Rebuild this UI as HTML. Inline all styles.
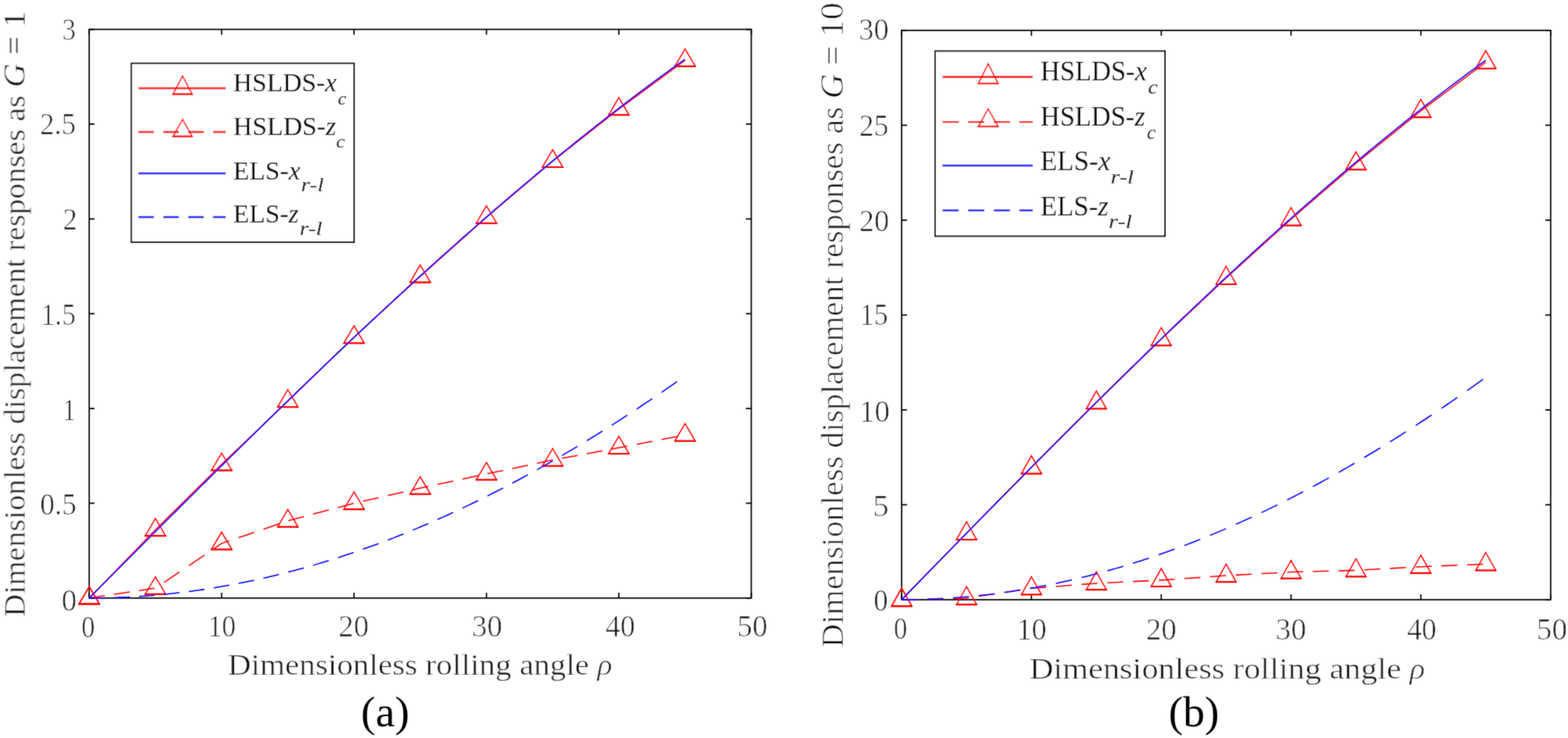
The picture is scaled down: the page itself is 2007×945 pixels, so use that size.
<!DOCTYPE html><html><head><meta charset="utf-8"><title>Dimensionless displacement responses</title><style>html,body{margin:0;padding:0;background:#fff;width:2007px;height:945px;overflow:hidden}svg{display:block}</style></head><body><svg width="2007" height="945" viewBox="0 0 2007 945" font-family="&apos;Liberation Serif&apos;, &apos;Times New Roman&apos;, serif"><rect width="2007" height="945" fill="#fff"/><filter id="soft" filterUnits="userSpaceOnUse" x="0" y="0" width="2007" height="945"><feConvolveMatrix order="3" kernelMatrix="1 6 1 6 36 6 1 6 1" divisor="64" edgeMode="none"/></filter><g filter="url(#soft)"><defs><clipPath id="cL"><rect x="114.2" y="36.6" width="848.4" height="730.2"/></clipPath><clipPath id="cR"><rect x="1154.1" y="37.9" width="831.7" height="731"/></clipPath></defs><rect x="114.2" y="37.6" width="847.4" height="728.2" fill="none" stroke="#000" stroke-width="1.7"/><path d="M114.2 765.8V759M114.2 37.6V44.4M283.68 765.8V759M283.68 37.6V44.4M453.16 765.8V759M453.16 37.6V44.4M622.64 765.8V759M622.64 37.6V44.4M792.12 765.8V759M792.12 37.6V44.4M961.6 765.8V759M961.6 37.6V44.4M114.2 765.8H121M961.6 765.8H954.8M114.2 644.43H121M961.6 644.43H954.8M114.2 523.07H121M961.6 523.07H954.8M114.2 401.7H121M961.6 401.7H954.8M114.2 280.33H121M961.6 280.33H954.8M114.2 158.97H121M961.6 158.97H954.8M114.2 37.6H121M961.6 37.6H954.8" stroke="#000" stroke-width="1.7" fill="none"/><rect x="1154.1" y="38.9" width="830.7" height="729" fill="none" stroke="#000" stroke-width="1.7"/><path d="M1154.1 767.9V761.1M1154.1 38.9V45.7M1320.24 767.9V761.1M1320.24 38.9V45.7M1486.38 767.9V761.1M1486.38 38.9V45.7M1652.52 767.9V761.1M1652.52 38.9V45.7M1818.66 767.9V761.1M1818.66 38.9V45.7M1984.8 767.9V761.1M1984.8 38.9V45.7M1154.1 767.9H1160.9M1984.8 767.9H1978M1154.1 646.4H1160.9M1984.8 646.4H1978M1154.1 524.9H1160.9M1984.8 524.9H1978M1154.1 403.4H1160.9M1984.8 403.4H1978M1154.1 281.9H1160.9M1984.8 281.9H1978M1154.1 160.4H1160.9M1984.8 160.4H1978M1154.1 38.9H1160.9M1984.8 38.9H1978" stroke="#000" stroke-width="1.7" fill="none"/><path d="M114.2 765.8 L198.94 678.42 L283.68 594.67 L368.42 513.6 L453.16 431.8 L537.9 353.88 L622.64 278.15 L707.38 206.3 L792.12 139.55 L876.86 77.17" fill="none" stroke="#ff0000" stroke-width="1.55" clip-path="url(#cL)" stroke-linejoin="round"/><path d="M114.2 751.2L127.2 773.3L101.2 773.3ZM198.94 663.82L211.94 685.92L185.94 685.92ZM283.68 580.07L296.68 602.17L270.68 602.17ZM368.42 499L381.42 521.1L355.42 521.1ZM453.16 417.2L466.16 439.3L440.16 439.3ZM537.9 339.28L550.9 361.38L524.9 361.38ZM622.64 263.55L635.64 285.65L609.64 285.65ZM707.38 191.7L720.38 213.8L694.38 213.8ZM792.12 124.95L805.12 147.05L779.12 147.05ZM876.86 62.57L889.86 84.67L863.86 84.67Z" fill="none" stroke="#ff0000" stroke-width="1.45"/><path d="M100.4 773.5H128M185.14 686.12H212.74M269.88 602.37H297.48M354.62 521.3H382.22M439.36 439.5H466.96M524.1 361.58H551.7M608.84 285.85H636.44M693.58 214H721.18M778.32 147.25H805.92M863.06 84.87H890.66" stroke="#ff0000" stroke-width="2.1"/><path d="M114.2 765.8 L134.2 762.82M146.05 761.06 L166.05 758.08M177.9 756.31 L197.9 753.33M209.75 745.87 L229.75 732.35M241.6 724.34 L261.6 710.82M273.45 702.81 L283.68 695.89 L293.45 692.56M305.3 688.52 L325.3 681.71M337.15 677.67 L357.15 670.85M369 666.85 L389 661.53M400.85 658.37 L420.85 653.04M432.7 649.88 L452.7 644.56M464.55 641.82 L484.55 637.24M496.4 634.52 L516.4 629.94M528.25 627.23 L537.9 625.01 L548.25 622.79M560.1 620.25 L580.1 615.95M591.95 613.4 L611.95 609.11M623.8 606.57 L643.8 602.39M655.65 599.91 L675.65 595.73M687.5 593.25 L707.38 589.09 L707.5 589.07M719.35 586.86 L739.35 583.14M751.2 580.93 L771.2 577.21M783.05 575 L792.12 573.31 L803.05 571.21M814.9 568.94 L834.9 565.1M846.75 562.83 L866.75 558.99" fill="none" stroke="#ff0000" stroke-width="1.55" clip-path="url(#cL)" stroke-linejoin="round"/><path d="M114.2 751.2L127.2 773.3L101.2 773.3ZM198.94 738.58L211.94 760.68L185.94 760.68ZM283.68 681.29L296.68 703.39L270.68 703.39ZM368.42 652.41L381.42 674.51L355.42 674.51ZM453.16 629.83L466.16 651.93L440.16 651.93ZM537.9 610.41L550.9 632.51L524.9 632.51ZM622.64 592.21L635.64 614.31L609.64 614.31ZM707.38 574.49L720.38 596.59L694.38 596.59ZM792.12 558.71L805.12 580.81L779.12 580.81ZM876.86 542.45L889.86 564.55L863.86 564.55Z" fill="none" stroke="#ff0000" stroke-width="1.45"/><path d="M100.4 773.5H128M185.14 760.88H212.74M269.88 703.59H297.48M354.62 674.71H382.22M439.36 652.13H466.96M524.1 632.71H551.7M608.84 614.51H636.44M693.58 596.79H721.18M778.32 581.01H805.92M863.06 564.75H890.66" stroke="#ff0000" stroke-width="2.1"/><path d="M114.2 765.8 L118.44 761.54 L122.67 757.28 L126.91 753.03 L131.15 748.77 L135.38 744.51 L139.62 740.26 L143.86 736 L148.1 731.75 L152.33 727.49 L156.57 723.24 L160.81 718.98 L165.04 714.73 L169.28 710.48 L173.52 706.23 L177.75 701.98 L181.99 697.73 L186.23 693.49 L190.47 689.24 L194.7 685 L198.94 680.75 L203.18 676.51 L207.41 672.27 L211.65 668.04 L215.89 663.8 L220.12 659.57 L224.36 655.34 L228.6 651.11 L232.84 646.88 L237.07 642.66 L241.31 638.43 L245.55 634.21 L249.78 630 L254.02 625.78 L258.26 621.57 L262.5 617.36 L266.73 613.15 L270.97 608.95 L275.21 604.75 L279.44 600.55 L283.68 596.36 L287.92 592.16 L292.15 587.98 L296.39 583.79 L300.63 579.61 L304.87 575.43 L309.1 571.26 L313.34 567.09 L317.58 562.92 L321.81 558.76 L326.05 554.6 L330.29 550.45 L334.52 546.3 L338.76 542.15 L343 538.01 L347.24 533.87 L351.47 529.74 L355.71 525.61 L359.95 521.48 L364.18 517.36 L368.42 513.25 L372.66 509.14 L376.89 505.03 L381.13 500.93 L385.37 496.84 L389.6 492.75 L393.84 488.66 L398.08 484.58 L402.32 480.51 L406.55 476.44 L410.79 472.37 L415.03 468.32 L419.26 464.26 L423.5 460.22 L427.74 456.18 L431.97 452.14 L436.21 448.11 L440.45 444.09 L444.69 440.08 L448.92 436.06 L453.16 432.06 L457.4 428.06 L461.63 424.07 L465.87 420.09 L470.11 416.11 L474.34 412.14 L478.58 408.17 L482.82 404.21 L487.06 400.26 L491.29 396.32 L495.53 392.38 L499.77 388.45 L504 384.53 L508.24 380.61 L512.48 376.71 L516.72 372.8 L520.95 368.91 L525.19 365.03 L529.43 361.15 L533.66 357.28 L537.9 353.41 L542.14 349.56 L546.37 345.71 L550.61 341.87 L554.85 338.04 L559.09 334.22 L563.32 330.41 L567.56 326.6 L571.8 322.8 L576.03 319.01 L580.27 315.23 L584.51 311.46 L588.74 307.7 L592.98 303.94 L597.22 300.19 L601.46 296.46 L605.69 292.73 L609.93 289.01 L614.17 285.3 L618.4 281.6 L622.64 277.91 L626.88 274.22 L631.11 270.55 L635.35 266.89 L639.59 263.23 L643.83 259.59 L648.06 255.95 L652.3 252.33 L656.54 248.71 L660.77 245.11 L665.01 241.51 L669.25 237.92 L673.48 234.35 L677.72 230.78 L681.96 227.23 L686.2 223.68 L690.43 220.15 L694.67 216.62 L698.91 213.11 L703.14 209.6 L707.38 206.11 L711.62 202.63 L715.85 199.16 L720.09 195.7 L724.33 192.25 L728.57 188.81 L732.8 185.38 L737.04 181.96 L741.28 178.56 L745.51 175.16 L749.75 171.78 L753.99 168.41 L758.22 165.04 L762.46 161.7 L766.7 158.36 L770.94 155.03 L775.17 151.72 L779.41 148.41 L783.65 145.12 L787.88 141.84 L792.12 138.58 L796.36 135.32 L800.59 132.08 L804.83 128.84 L809.07 125.63 L813.31 122.42 L817.54 119.22 L821.78 116.04 L826.02 112.87 L830.25 109.71 L834.49 106.57 L838.73 103.43 L842.96 100.31 L847.2 97.21 L851.44 94.11 L855.68 91.03 L859.91 87.96 L864.15 84.9 L868.39 81.86 L872.62 78.83 L876.86 75.81" fill="none" stroke="#0000ff" stroke-width="1.55" clip-path="url(#cL)" stroke-linejoin="round"/><path d="M114.2 765.8 L118.44 765.79 L122.67 765.76 L126.91 765.72 L131.15 765.65 L134.2 765.59M146.05 765.28 L148.1 765.21 L152.33 765.05 L156.57 764.88 L160.81 764.68 L165.04 764.47 L166.05 764.41M177.9 763.71 L181.99 763.43 L186.23 763.13 L190.47 762.81 L194.7 762.47 L197.9 762.19M209.75 761.1 L211.65 760.91 L215.89 760.48 L220.12 760.03 L224.36 759.56 L228.6 759.07 L229.75 758.93M241.6 757.46 L245.55 756.93 L249.78 756.35 L254.02 755.75 L258.26 755.14 L261.6 754.63M273.45 752.77 L275.21 752.48 L279.44 751.78 L283.68 751.05 L287.92 750.3 L292.15 749.54 L293.45 749.3M305.3 747.06 L309.1 746.31 L313.34 745.45 L317.58 744.58 L321.81 743.69 L325.3 742.95M337.15 740.32 L338.76 739.95 L343 738.97 L347.24 737.98 L351.47 736.96 L355.71 735.93 L357.15 735.57M369 732.56 L372.66 731.61 L376.89 730.49 L381.13 729.35 L385.37 728.19 L389 727.18M400.85 723.8 L402.32 723.37 L406.55 722.13 L410.79 720.86 L415.03 719.58 L419.26 718.28 L420.85 717.79M432.7 714.04 L436.21 712.9 L440.45 711.51 L444.69 710.11 L448.92 708.69 L452.7 707.4M464.55 703.29 L465.87 702.82 L470.11 701.31 L474.34 699.78 L478.58 698.24 L482.82 696.68 L484.55 696.03M496.4 691.56 L499.77 690.26 L504 688.62 L508.24 686.95 L512.48 685.27 L516.4 683.7M528.25 678.86 L529.43 678.38 L533.66 676.61 L537.9 674.83 L542.14 673.03 L546.37 671.22 L548.25 670.41M560.1 665.22 L563.32 663.79 L567.56 661.89 L571.8 659.97 L576.03 658.04 L580.1 656.17M591.95 650.64 L592.98 650.15 L597.22 648.14 L601.46 646.11 L605.69 644.06 L609.93 642 L611.95 641.01M623.8 635.14 L626.88 633.59 L631.11 631.45 L635.35 629.29 L639.59 627.12 L643.8 624.94M655.65 618.73 L656.54 618.26 L660.77 616.01 L665.01 613.74 L669.25 611.46 L673.48 609.16 L675.65 607.98M687.5 601.44 L690.43 599.81 L694.67 597.43 L698.91 595.04 L703.14 592.63 L707.38 590.21 L707.5 590.14M719.35 583.28 L720.09 582.85 L724.33 580.37 L728.57 577.87 L732.8 575.36 L737.04 572.83 L739.35 571.44M751.2 564.27 L753.99 562.57 L758.22 559.97 L762.46 557.36 L766.7 554.73 L770.94 552.08 L771.2 551.92M783.05 544.44 L783.65 544.06 L787.88 541.36 L792.12 538.64 L796.36 535.91 L800.59 533.17 L803.05 531.57M814.9 523.8 L817.54 522.05 L821.78 519.24 L826.02 516.41 L830.25 513.57 L834.49 510.71 L834.9 510.44M846.75 502.37 L847.2 502.07 L851.44 499.16 L855.68 496.23 L859.91 493.3 L864.15 490.35 L866.75 488.53" fill="none" stroke="#0000ff" stroke-width="1.55" clip-path="url(#cL)" stroke-linejoin="round"/><path d="M1154.1 767.9 L1237.17 682.79 L1320.24 598.39 L1403.31 515.34 L1486.38 434.28 L1569.45 355.82 L1652.52 280.56 L1735.59 209.08 L1818.66 141.93 L1901.73 79.62" fill="none" stroke="#ff0000" stroke-width="1.55" clip-path="url(#cR)" stroke-linejoin="round"/><path d="M1154.1 753.1L1166.9 775.9L1141.3 775.9ZM1237.17 667.99L1249.97 690.79L1224.37 690.79ZM1320.24 583.59L1333.04 606.39L1307.44 606.39ZM1403.31 500.54L1416.11 523.34L1390.51 523.34ZM1486.38 419.48L1499.18 442.28L1473.58 442.28ZM1569.45 341.02L1582.25 363.82L1556.65 363.82ZM1652.52 265.76L1665.32 288.56L1639.72 288.56ZM1735.59 194.28L1748.39 217.08L1722.79 217.08ZM1818.66 127.13L1831.46 149.93L1805.86 149.93ZM1901.73 64.82L1914.53 87.62L1888.93 87.62Z" fill="none" stroke="#ff0000" stroke-width="1.45"/><path d="M1140.5 776.1H1167.7M1223.57 690.99H1250.77M1306.64 606.59H1333.84M1389.71 523.54H1416.91M1472.78 442.48H1499.98M1555.85 364.02H1583.05M1638.92 288.76H1666.12M1721.99 217.28H1749.19M1805.06 150.13H1832.26M1888.13 87.82H1915.33" stroke="#ff0000" stroke-width="2.1"/><path d="M1154.1 767.9 L1174.5 767.42M1187 767.13 L1207.4 766.65M1219.9 766.36 L1237.17 765.96 L1240.3 765.48M1252.8 763.58 L1273.2 760.48M1285.7 758.57 L1306.1 755.47M1318.6 753.57 L1320.24 753.32 L1339 751.87M1351.5 750.91 L1371.9 749.33M1384.4 748.37 L1403.31 746.9 L1404.8 746.83M1417.3 746.23 L1437.7 745.23M1450.2 744.63 L1470.6 743.64M1483.1 743.03 L1486.38 742.87 L1503.5 741.67M1516 740.79 L1536.4 739.36M1548.9 738.48 L1569.3 737.05M1581.8 736.36 L1602.2 735.25M1614.7 734.56 L1635.1 733.45M1647.6 732.76 L1652.52 732.49 L1668 732.09M1680.5 731.76 L1700.9 731.22M1713.4 730.89 L1733.8 730.36M1746.3 729.71 L1766.7 728.58M1779.2 727.88 L1799.6 726.75M1812.1 726.06 L1818.66 725.69 L1832.5 725.12M1845 724.61 L1865.4 723.78M1877.9 723.26 L1898.3 722.43" fill="none" stroke="#ff0000" stroke-width="1.55" clip-path="url(#cR)" stroke-linejoin="round"/><path d="M1154.1 753.1L1166.9 775.9L1141.3 775.9ZM1237.17 751.16L1249.97 773.96L1224.37 773.96ZM1320.24 738.52L1333.04 761.32L1307.44 761.32ZM1403.31 732.1L1416.11 754.9L1390.51 754.9ZM1486.38 728.07L1499.18 750.87L1473.58 750.87ZM1569.45 722.24L1582.25 745.04L1556.65 745.04ZM1652.52 717.69L1665.32 740.49L1639.72 740.49ZM1735.59 715.51L1748.39 738.31L1722.79 738.31ZM1818.66 710.89L1831.46 733.69L1805.86 733.69ZM1901.73 707.49L1914.53 730.29L1888.93 730.29Z" fill="none" stroke="#ff0000" stroke-width="1.45"/><path d="M1140.5 776.1H1167.7M1223.57 774.16H1250.77M1306.64 761.52H1333.84M1389.71 755.1H1416.91M1472.78 751.07H1499.98M1555.85 745.24H1583.05M1638.92 740.69H1666.12M1721.99 738.51H1749.19M1805.06 733.89H1832.26M1888.13 730.49H1915.33" stroke="#ff0000" stroke-width="2.1"/><path d="M1154.1 767.9 L1158.25 763.64 L1162.41 759.38 L1166.56 755.11 L1170.71 750.85 L1174.87 746.59 L1179.02 742.33 L1183.17 738.07 L1187.33 733.81 L1191.48 729.55 L1195.63 725.29 L1199.79 721.03 L1203.94 716.78 L1208.1 712.52 L1212.25 708.26 L1216.4 704.01 L1220.56 699.76 L1224.71 695.51 L1228.86 691.26 L1233.02 687.01 L1237.17 682.76 L1241.32 678.52 L1245.48 674.27 L1249.63 670.03 L1253.78 665.79 L1257.94 661.55 L1262.09 657.32 L1266.24 653.08 L1270.4 648.85 L1274.55 644.62 L1278.7 640.39 L1282.86 636.17 L1287.01 631.95 L1291.17 627.73 L1295.32 623.51 L1299.47 619.3 L1303.63 615.09 L1307.78 610.88 L1311.93 606.67 L1316.09 602.47 L1320.24 598.27 L1324.39 594.07 L1328.55 589.88 L1332.7 585.69 L1336.85 581.51 L1341.01 577.32 L1345.16 573.15 L1349.31 568.97 L1353.47 564.8 L1357.62 560.63 L1361.77 556.47 L1365.93 552.31 L1370.08 548.15 L1374.24 544 L1378.39 539.86 L1382.54 535.71 L1386.7 531.58 L1390.85 527.44 L1395 523.31 L1399.16 519.19 L1403.31 515.07 L1407.46 510.96 L1411.62 506.85 L1415.77 502.74 L1419.92 498.64 L1424.08 494.55 L1428.23 490.46 L1432.38 486.37 L1436.54 482.29 L1440.69 478.22 L1444.84 474.15 L1449 470.09 L1453.15 466.03 L1457.31 461.98 L1461.46 457.94 L1465.61 453.9 L1469.77 449.87 L1473.92 445.84 L1478.07 441.82 L1482.23 437.8 L1486.38 433.79 L1490.53 429.79 L1494.69 425.8 L1498.84 421.81 L1502.99 417.82 L1507.15 413.85 L1511.3 409.88 L1515.45 405.92 L1519.61 401.96 L1523.76 398.01 L1527.91 394.07 L1532.07 390.14 L1536.22 386.21 L1540.38 382.29 L1544.53 378.38 L1548.68 374.47 L1552.84 370.58 L1556.99 366.69 L1561.14 362.8 L1565.3 358.93 L1569.45 355.06 L1573.6 351.2 L1577.76 347.35 L1581.91 343.51 L1586.06 339.67 L1590.22 335.85 L1594.37 332.03 L1598.52 328.22 L1602.68 324.41 L1606.83 320.62 L1610.98 316.84 L1615.14 313.06 L1619.29 309.29 L1623.45 305.53 L1627.6 301.78 L1631.75 298.04 L1635.91 294.31 L1640.06 290.59 L1644.21 286.87 L1648.37 283.17 L1652.52 279.47 L1656.67 275.78 L1660.83 272.11 L1664.98 268.44 L1669.13 264.78 L1673.29 261.13 L1677.44 257.49 L1681.59 253.86 L1685.75 250.24 L1689.9 246.63 L1694.05 243.03 L1698.21 239.44 L1702.36 235.86 L1706.52 232.29 L1710.67 228.73 L1714.82 225.19 L1718.98 221.65 L1723.13 218.12 L1727.28 214.6 L1731.44 211.09 L1735.59 207.6 L1739.74 204.11 L1743.9 200.63 L1748.05 197.17 L1752.2 193.72 L1756.36 190.27 L1760.51 186.84 L1764.66 183.42 L1768.82 180.01 L1772.97 176.61 L1777.12 173.23 L1781.28 169.85 L1785.43 166.48 L1789.59 163.13 L1793.74 159.79 L1797.89 156.46 L1802.05 153.14 L1806.2 149.84 L1810.35 146.54 L1814.51 143.26 L1818.66 139.99 L1822.81 136.73 L1826.97 133.48 L1831.12 130.25 L1835.27 127.02 L1839.43 123.81 L1843.58 120.61 L1847.73 117.43 L1851.89 114.25 L1856.04 111.09 L1860.19 107.94 L1864.35 104.81 L1868.5 101.68 L1872.66 98.57 L1876.81 95.47 L1880.96 92.39 L1885.12 89.32 L1889.27 86.26 L1893.42 83.21 L1897.58 80.18 L1901.73 77.16" fill="none" stroke="#0000ff" stroke-width="1.55" clip-path="url(#cR)" stroke-linejoin="round"/><path d="M1154.1 767.9 L1158.25 767.89 L1162.41 767.86 L1166.56 767.82 L1170.71 767.75 L1174.5 767.68M1187 767.32 L1187.33 767.31 L1191.48 767.15 L1195.63 766.97 L1199.79 766.78 L1203.94 766.57 L1207.4 766.38M1219.9 765.58 L1220.56 765.53 L1224.71 765.23 L1228.86 764.9 L1233.02 764.56 L1237.17 764.2 L1240.3 763.92M1252.8 762.68 L1253.78 762.58 L1257.94 762.12 L1262.09 761.65 L1266.24 761.16 L1270.4 760.65 L1273.2 760.3M1285.7 758.62 L1287.01 758.44 L1291.17 757.84 L1295.32 757.22 L1299.47 756.59 L1303.63 755.93 L1306.1 755.53M1318.6 753.42 L1320.24 753.13 L1324.39 752.39 L1328.55 751.62 L1332.7 750.84 L1336.85 750.04 L1339 749.62M1351.5 747.07 L1353.47 746.66 L1357.62 745.77 L1361.77 744.86 L1365.93 743.93 L1370.08 742.99 L1371.9 742.57M1384.4 739.59 L1386.7 739.03 L1390.85 737.99 L1395 736.94 L1399.16 735.87 L1403.31 734.78 L1404.8 734.38M1417.3 730.98 L1419.92 730.25 L1424.08 729.07 L1428.23 727.87 L1432.38 726.66 L1436.54 725.43 L1437.7 725.08M1450.2 721.25 L1453.15 720.33 L1457.31 719.01 L1461.46 717.67 L1465.61 716.32 L1469.77 714.94 L1470.6 714.67M1483.1 710.42 L1486.38 709.28 L1490.53 707.82 L1494.69 706.35 L1498.84 704.85 L1502.99 703.34 L1503.5 703.15M1516 698.5 L1519.61 697.12 L1523.76 695.53 L1527.91 693.91 L1532.07 692.28 L1536.22 690.63 L1536.4 690.56M1548.9 685.49 L1552.84 683.87 L1556.99 682.13 L1561.14 680.38 L1565.3 678.62 L1569.3 676.9M1581.8 671.43 L1581.91 671.38 L1586.06 669.53 L1590.22 667.66 L1594.37 665.78 L1598.52 663.88 L1602.2 662.18M1614.7 656.32 L1615.14 656.11 L1619.29 654.13 L1623.45 652.13 L1627.6 650.11 L1631.75 648.08 L1635.1 646.43M1647.6 640.18 L1648.37 639.79 L1652.52 637.68 L1656.67 635.55 L1660.83 633.4 L1664.98 631.24 L1668 629.66M1680.5 623.03 L1681.59 622.44 L1685.75 620.2 L1689.9 617.95 L1694.05 615.68 L1698.21 613.39 L1700.9 611.9M1713.4 604.89 L1714.82 604.09 L1718.98 601.72 L1723.13 599.35 L1727.28 596.95 L1731.44 594.54 L1733.8 593.16M1746.3 585.79 L1748.05 584.75 L1752.2 582.26 L1756.36 579.76 L1760.51 577.25 L1764.66 574.72 L1766.7 573.47M1779.2 565.75 L1781.28 564.45 L1785.43 561.85 L1789.59 559.23 L1793.74 556.6 L1797.89 553.95 L1799.6 552.85M1812.1 544.78 L1814.51 543.21 L1818.66 540.5 L1822.81 537.76 L1826.97 535.01 L1831.12 532.25 L1832.5 531.33M1845 522.92 L1847.73 521.07 L1851.89 518.24 L1856.04 515.39 L1860.19 512.53 L1864.35 509.66 L1865.4 508.93M1877.9 500.2 L1880.96 498.04 L1885.12 495.1 L1889.27 492.15 L1893.42 489.18 L1897.58 486.2 L1898.3 485.68" fill="none" stroke="#0000ff" stroke-width="1.55" clip-path="url(#cR)" stroke-linejoin="round"/><rect x="168.2" y="81.2" width="285" height="228.9" fill="#fff" stroke="#000" stroke-width="1.8"/><path d="M177.2 113H288.8" stroke="#ff0000" stroke-width="2.3"/><path d="M233.7 97.3L245.9 120.5L221.5 120.5Z" fill="none" stroke="#ff0000" stroke-width="1.6"/><path d="M220.7 120.7H246.7" stroke="#ff0000" stroke-width="2.3"/><path d="M177.2 169H288.8" stroke="#ff0000" stroke-width="2.3" stroke-dasharray="19.8 12.05"/><path d="M233.7 152.9L245.9 174.6L221.5 174.6Z" fill="none" stroke="#ff0000" stroke-width="1.6"/><path d="M220.7 174.8H246.7" stroke="#ff0000" stroke-width="2.3"/><path d="M177.2 222H288.8" stroke="#0000ff" stroke-width="2.3"/><path d="M177.2 278H288.8" stroke="#0000ff" stroke-width="2.3" stroke-dasharray="19.8 12.05"/><rect x="1197.1" y="65.4" width="294" height="237" fill="#fff" stroke="#000" stroke-width="1.8"/><path d="M1206.5 98.5H1321.9" stroke="#ff0000" stroke-width="2.3"/><path d="M1264.9 81.6L1277.4 106.8L1252.4 106.8Z" fill="none" stroke="#ff0000" stroke-width="1.6"/><path d="M1251.6 107H1278.2" stroke="#ff0000" stroke-width="2.3"/><path d="M1206.5 156.2H1321.9" stroke="#ff0000" stroke-width="2.3" stroke-dasharray="20.6 12.15"/><path d="M1264.9 139.3L1277.4 161.8L1252.4 161.8Z" fill="none" stroke="#ff0000" stroke-width="1.6"/><path d="M1251.6 162H1278.2" stroke="#ff0000" stroke-width="2.3"/><path d="M1206.5 212H1321.9" stroke="#0000ff" stroke-width="2.3"/><path d="M1206.5 269.3H1321.9" stroke="#0000ff" stroke-width="2.3" stroke-dasharray="20.6 12.15"/><g fill="#000"><text x="291.53" y="864.1" font-size="40" textLength="492.24" lengthAdjust="spacingAndGlyphs" stroke="#fff" stroke-width="0.5"><tspan font-size="38.5">Dimensionless rolling angle </tspan><tspan font-style="italic" font-size="37.5" stroke="#fff" stroke-width="0.7">ρ</tspan></text><text x="1317.7" y="869.2" font-size="40" textLength="506.29" lengthAdjust="spacingAndGlyphs" stroke="#fff" stroke-width="0.5"><tspan font-size="38.5">Dimensionless rolling angle </tspan><tspan font-style="italic" font-size="37.5" stroke="#fff" stroke-width="0.7">ρ</tspan></text><text x="462.07" y="930" font-size="55" textLength="61.9" lengthAdjust="spacingAndGlyphs">(a)</text><text x="1495.68" y="930.3" font-size="55" textLength="64.78" lengthAdjust="spacingAndGlyphs">(b)</text><text x="298.51" y="117.3" font-size="34" textLength="132.41" lengthAdjust="spacingAndGlyphs">HSLDS-<tspan font-style="italic">x</tspan></text><text x="432.4" y="133.9" font-size="24" textLength="10.75" lengthAdjust="spacingAndGlyphs"><tspan font-style="italic">c</tspan></text><text x="298.51" y="173.3" font-size="34" textLength="131.56" lengthAdjust="spacingAndGlyphs">HSLDS-<tspan font-style="italic">z</tspan></text><text x="430.3" y="189.2" font-size="24" textLength="11.33" lengthAdjust="spacingAndGlyphs"><tspan font-style="italic">c</tspan></text><text x="298.51" y="229.5" font-size="34" textLength="85.97" lengthAdjust="spacingAndGlyphs">ELS-<tspan font-style="italic">x</tspan></text><text x="385.34" y="245.2" font-size="25.5" textLength="29.06" lengthAdjust="spacingAndGlyphs"><tspan font-style="italic">r-l</tspan></text><text x="298.51" y="285.1" font-size="34" textLength="83.9" lengthAdjust="spacingAndGlyphs">ELS-<tspan font-style="italic">z</tspan></text><text x="383.44" y="300.6" font-size="25.5" textLength="29.06" lengthAdjust="spacingAndGlyphs"><tspan font-style="italic">r-l</tspan></text><text x="1331.81" y="102.8" font-size="35" textLength="136.16" lengthAdjust="spacingAndGlyphs">HSLDS-<tspan font-style="italic">x</tspan></text><text x="1469.6" y="120.3" font-size="25" textLength="12.32" lengthAdjust="spacingAndGlyphs"><tspan font-style="italic">c</tspan></text><text x="1331.82" y="160.8" font-size="35" textLength="133.84" lengthAdjust="spacingAndGlyphs">HSLDS-<tspan font-style="italic">z</tspan></text><text x="1467.9" y="178" font-size="25" textLength="11.51" lengthAdjust="spacingAndGlyphs"><tspan font-style="italic">c</tspan></text><text x="1331.7" y="218.3" font-size="35" textLength="89.64" lengthAdjust="spacingAndGlyphs">ELS-<tspan font-style="italic">x</tspan></text><text x="1421.43" y="234.8" font-size="26" textLength="29.84" lengthAdjust="spacingAndGlyphs"><tspan font-style="italic">r-l</tspan></text><text x="1331.7" y="275.8" font-size="35" textLength="87.21" lengthAdjust="spacingAndGlyphs">ELS-<tspan font-style="italic">z</tspan></text><text x="1419.12" y="292.3" font-size="26" textLength="29.94" lengthAdjust="spacingAndGlyphs"><tspan font-style="italic">r-l</tspan></text></g><g fill="#000" stroke="#fff" stroke-width="0.7"><text x="79.51" y="51" font-size="39.5" textLength="17.65" lengthAdjust="spacingAndGlyphs">3</text><text x="51.27" y="172.2" font-size="39.5" textLength="45.8" lengthAdjust="spacingAndGlyphs">2.5</text><text x="80.47" y="293.7" font-size="39.5" textLength="18.36" lengthAdjust="spacingAndGlyphs">2</text><text x="52.61" y="415.8" font-size="39.5" textLength="44.33" lengthAdjust="spacingAndGlyphs">1.5</text><text x="80.44" y="538.3" font-size="39.5" textLength="16.19" lengthAdjust="spacingAndGlyphs">1</text><text x="51.36" y="659.3" font-size="39.5" textLength="46.64" lengthAdjust="spacingAndGlyphs">0.5</text><text x="78.81" y="782" font-size="39.5" textLength="19.53" lengthAdjust="spacingAndGlyphs">0</text><text x="104.33" y="815.5" font-size="39.5" textLength="17.23" lengthAdjust="spacingAndGlyphs">0</text><text x="266.3" y="815" font-size="39.5" textLength="35.55" lengthAdjust="spacingAndGlyphs">10</text><text x="433.22" y="814.5" font-size="39.5" textLength="38.86" lengthAdjust="spacingAndGlyphs">20</text><text x="604.03" y="814.5" font-size="39.5" textLength="38.95" lengthAdjust="spacingAndGlyphs">30</text><text x="775" y="814.5" font-size="39.5" textLength="37.84" lengthAdjust="spacingAndGlyphs">40</text><text x="943.43" y="814.5" font-size="39.5" textLength="38.95" lengthAdjust="spacingAndGlyphs">50</text><text x="1099.26" y="51.4" font-size="39.5" textLength="38.29" lengthAdjust="spacingAndGlyphs">30</text><text x="1099.75" y="173.8" font-size="39.5" textLength="37.69" lengthAdjust="spacingAndGlyphs">25</text><text x="1099.73" y="295.7" font-size="39.5" textLength="38.43" lengthAdjust="spacingAndGlyphs">20</text><text x="1100.87" y="415.8" font-size="39.5" textLength="35.89" lengthAdjust="spacingAndGlyphs">15</text><text x="1099.94" y="539.8" font-size="39.5" textLength="38.94" lengthAdjust="spacingAndGlyphs">10</text><text x="1117" y="660.7" font-size="39.5" textLength="20.74" lengthAdjust="spacingAndGlyphs">5</text><text x="1118.17" y="781.6" font-size="39.5" textLength="18.43" lengthAdjust="spacingAndGlyphs">0</text><text x="1144.02" y="818.4" font-size="39.5" textLength="17.34" lengthAdjust="spacingAndGlyphs">0</text><text x="1301.39" y="818.5" font-size="39.5" textLength="38.26" lengthAdjust="spacingAndGlyphs">10</text><text x="1466.91" y="818.5" font-size="39.5" textLength="38.97" lengthAdjust="spacingAndGlyphs">20</text><text x="1632.82" y="818.5" font-size="39.5" textLength="39.17" lengthAdjust="spacingAndGlyphs">30</text><text x="1800.9" y="818.5" font-size="39.5" textLength="37.84" lengthAdjust="spacingAndGlyphs">40</text><text x="1966.82" y="818.5" font-size="39.5" textLength="39.17" lengthAdjust="spacingAndGlyphs">50</text><text transform="translate(31.6 789.77) rotate(-90)" font-size="40" textLength="775.66" lengthAdjust="spacingAndGlyphs"><tspan font-size="37.5">Dimensionless displacement responses as </tspan><tspan font-style="italic">G</tspan> = 1</text><text transform="translate(1078.8 829.07) rotate(-90)" font-size="41.5" textLength="825.93" lengthAdjust="spacingAndGlyphs"><tspan font-size="39">Dimensionless displacement responses as </tspan><tspan font-style="italic">G</tspan> = 10</text></g></g></svg></body></html>
